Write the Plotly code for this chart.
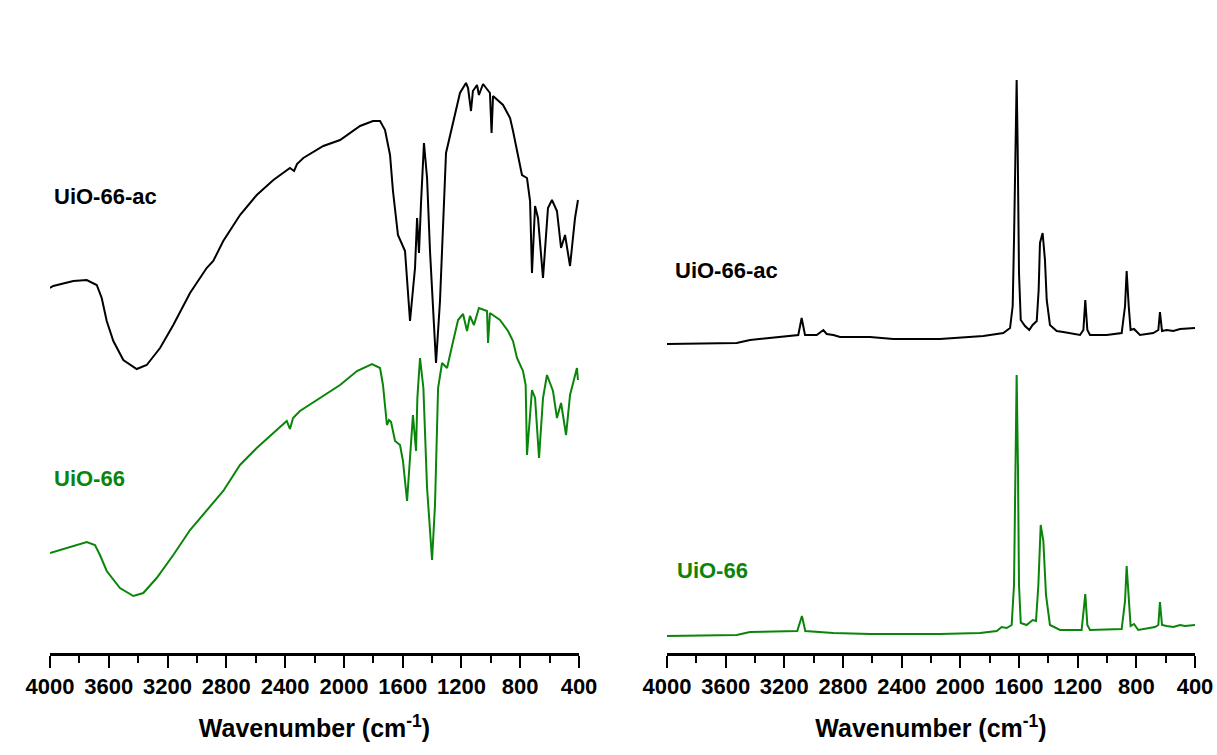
import plotly.graph_objects as go

# ---------------- data (arbitrary units) ----------------
ir_ac_wn = [4000, 3978, 3841, 3750, 3682, 3648, 3614, 3569, 3501, 3410, 3342, 3251, 3161, 3047, 2934, 2889,
            2821, 2707, 2593, 2480, 2367, 2339, 2319, 2276, 2140, 2026, 1890, 1802, 1754, 1720, 1686, 1666,
            1632, 1584, 1550, 1516, 1502, 1489, 1475, 1455, 1434, 1414, 1373, 1346, 1305, 1257, 1210, 1169,
            1155, 1135, 1122, 1094, 1081, 1053, 1006, 995, 985, 917, 869, 849, 815, 788, 754, 733, 720, 699,
            679, 645, 611, 584, 550, 522, 495, 461, 427, 407]
ir_ac_val = [365, 367, 372, 373, 368, 355, 332, 312, 293, 284, 288, 305, 328, 360, 385, 392,
             412, 438, 458, 473, 485, 482, 489, 495, 507, 513, 527, 532, 532, 523, 498, 462,
             418, 402, 332, 385, 435, 400, 450, 510, 475, 402, 290, 352, 500, 532, 560, 570,
             565, 542, 562, 568, 558, 569, 560, 520, 557, 548, 535, 522, 498, 478, 475, 452, 380, 447,
             435, 375, 445, 453, 442, 405, 418, 387, 435, 453]

ir_wn = [4000, 3841, 3750, 3694, 3660, 3614, 3524, 3433, 3365, 3274, 3161, 3047, 2934, 2821, 2707, 2593,
         2480, 2389, 2367, 2346, 2299, 2185, 2026, 1911, 1809, 1754, 1734, 1707, 1693, 1679, 1652, 1618,
         1598, 1570, 1550, 1530, 1509, 1500, 1482, 1459, 1434, 1400, 1380, 1359, 1332, 1298, 1264, 1223,
         1189, 1162, 1142, 1115, 1081, 1026, 1019, 1006, 938, 883, 849, 822, 781, 763, 754, 720, 699, 672,
         645, 618, 577, 550, 522, 488, 461, 414, 407]
ir_val = [100, 107, 111, 108, 98, 82, 65, 57, 60, 75, 98, 123, 143, 162, 188, 205,
          220, 232, 224, 235, 242, 253, 268, 282, 289, 285, 268, 228, 233, 231, 212, 208,
          192, 152, 198, 238, 202, 255, 295, 265, 165, 93, 148, 265, 290, 285, 307, 333,
          339, 322, 337, 328, 345, 342, 310, 340, 333, 322, 312, 295, 282, 268, 198, 263, 255, 195,
          255, 278, 262, 235, 250, 218, 258, 285, 273]

raman_ac_wn = [4000, 3525, 3434, 3230, 3105, 3082, 3059, 2979, 2934, 2911, 2866, 2820, 2616, 2457, 2139,
               1843, 1707, 1661, 1643, 1634, 1624, 1616, 1609, 1600, 1588, 1559, 1530, 1507, 1479, 1466,
               1457, 1439, 1423, 1411, 1389, 1343, 1298, 1184, 1161, 1148, 1134, 1116, 1002, 900, 877,
               866, 852, 839, 816, 775, 684, 650, 639, 625, 593, 548, 502, 400]
raman_ac_val = [309, 310, 313, 316, 318, 335, 318, 318, 323, 319, 318, 316, 316, 314, 314,
                317, 320, 325, 347, 413, 505, 573, 505, 380, 333, 327, 323, 328, 332, 363,
                410, 420, 393, 353, 328, 322, 321, 318, 323, 353, 323, 318, 318, 320, 347,
                382, 347, 323, 324, 318, 320, 323, 341, 322, 323, 322, 324, 325]

raman_wn = [4000, 3525, 3434, 3230, 3112, 3080, 3057, 2866, 2616, 2139, 1866, 1752, 1718, 1684, 1650,
            1634, 1626, 1616, 1607, 1600, 1588, 1548, 1507, 1484, 1468, 1452, 1434, 1416, 1389, 1320,
            1173, 1161, 1148, 1134, 1116, 900, 877, 866, 852, 839, 816, 787, 673, 650, 639, 625, 593,
            548, 502, 468, 400]
raman_val = [17, 18, 21, 22, 22, 37, 22, 20, 19, 19, 20, 22, 26, 25, 28,
             68, 185, 278, 185, 68, 30, 28, 33, 32, 68, 128, 112, 58, 28, 23,
             23, 38, 59, 28, 23, 24, 52, 87, 52, 27, 29, 23, 26, 28, 51, 28, 27,
             26, 28, 27, 28]

tick_values = [4000, 3600, 3200, 2800, 2400, 2000, 1600, 1200, 800, 400]
tick_labels = [str(v) for v in tick_values]
sample_names = ["UiO-66-ac", "UiO-66"]

BLACK = "#000000"
GREEN = "#0a850a"
FONT = "Arial, Liberation Sans, sans-serif"

fig = go.Figure()
fig.add_trace(go.Scatter(x=ir_ac_wn, y=ir_ac_val, mode="lines", line=dict(color=BLACK, width=2),
                         xaxis="x", yaxis="y", showlegend=False))
fig.add_trace(go.Scatter(x=ir_wn, y=ir_val, mode="lines", line=dict(color=GREEN, width=2),
                         xaxis="x", yaxis="y", showlegend=False))
fig.add_trace(go.Scatter(x=raman_ac_wn, y=raman_ac_val, mode="lines", line=dict(color=BLACK, width=2),
                         xaxis="x2", yaxis="y2", showlegend=False))
fig.add_trace(go.Scatter(x=raman_wn, y=raman_val, mode="lines", line=dict(color=GREEN, width=2),
                         xaxis="x2", yaxis="y2", showlegend=False))

W, H = 1217, 755

def xaxis_style(domain, anchor):
    return dict(
        domain=domain, anchor=anchor, range=[4000, 400], automargin=False,
        tickmode="array", tickvals=tick_values, ticktext=tick_labels,
        ticks="outside", ticklen=12, tickwidth=2, tickcolor=BLACK,
        minor=dict(ticks="outside", ticklen=7, tickwidth=2, tickcolor=BLACK, dtick=200, tick0=0,
                   showgrid=False),
        showline=True, linewidth=2.5, linecolor=BLACK, showgrid=False, zeroline=False,
        tickfont=dict(family=FONT, size=22, color=BLACK, weight="bold"),
        title=dict(text="Wavenumber (cm<sup>-1</sup>)", standoff=22,
                   font=dict(family=FONT, size=25, color=BLACK, weight="bold")),
    )

def yaxis_style(anchor):
    return dict(anchor=anchor, range=[0, 653], visible=False, showgrid=False, zeroline=False,
                domain=[0, 1], automargin=False)

fig.update_layout(
    width=W, height=H,
    margin=dict(l=0, r=0, t=0, b=102, autoexpand=False),
    paper_bgcolor="white", plot_bgcolor="white",
    xaxis=xaxis_style([50 / W, 579 / W], "y"),
    yaxis=yaxis_style("x"),
    xaxis2=xaxis_style([667 / W, 1195 / W], "y2"),
    yaxis2=yaxis_style("x2"),
)

label_font = dict(family=FONT, size=22, weight="bold")
annos = [
    dict(x=3988, y=457, xref="x", yref="y", text=sample_names[0], color=BLACK),
    dict(x=3988, y=175, xref="x", yref="y", text=sample_names[1], color=GREEN),
    dict(x=3957, y=383, xref="x2", yref="y2", text=sample_names[0], color=BLACK),
    dict(x=3945, y=83, xref="x2", yref="y2", text=sample_names[1], color=GREEN),
]
for a in annos:
    fig.add_annotation(x=a["x"], y=a["y"], xref=a["xref"], yref=a["yref"], text=a["text"],
                       showarrow=False, xanchor="left", yanchor="middle",
                       font=dict(color=a["color"], **label_font))

fig.write_html("out.html")
